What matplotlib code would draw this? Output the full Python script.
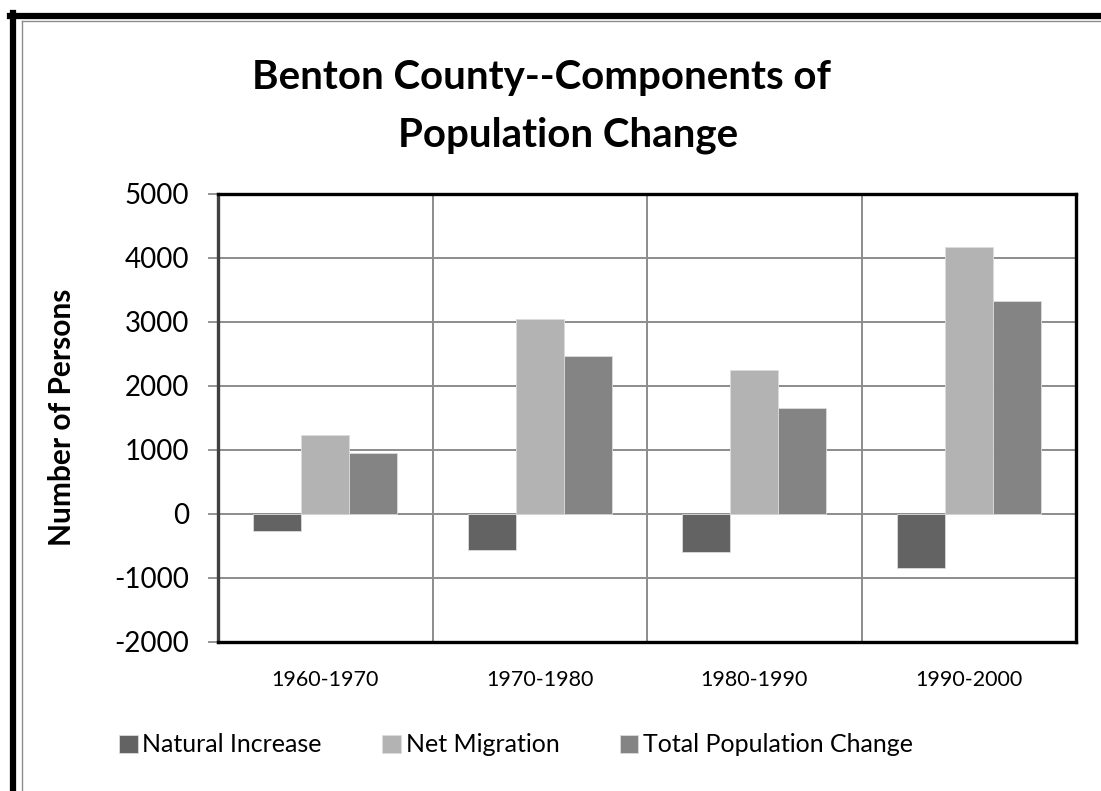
import matplotlib
matplotlib.use("Agg")
import matplotlib.pyplot as plt
import numpy as np
from matplotlib.lines import Line2D

periods = ["1960-1970", "1970-1980", "1980-1990", "1990-2000"]
natural_increase = [-265, -555, -588, -848]
net_migration = [1230, 3040, 2250, 4165]
total_change = [948, 2475, 1655, 3322]
series_names = ["Natural Increase", "Net Migration", "Total Population Change"]
series_colors = ["#636363", "#b3b3b3", "#848484"]
y_ticks = [-2000, -1000, 0, 1000, 2000, 3000, 4000, 5000]

plt.rcParams['font.family'] = ['Lato', 'DejaVu Sans']

fig = plt.figure(figsize=(11.01, 7.91), dpi=100)
W, H = 1101, 791
ax = fig.add_axes([218 / W, 1 - 642 / H, (1076 - 218) / W, (642 - 194) / H])

x = np.arange(len(periods))
bw = 0.224
bars = []
for i, (vals, col) in enumerate(zip([natural_increase, net_migration, total_change], series_colors)):
    b = ax.bar(x + (i - 1) * bw, vals, width=bw, color=col, edgecolor='#dcdcdc',
               linewidth=0.6, label=series_names[i], zorder=3)
    bars.append(b)

ax.set_xlim(-0.5, len(periods) - 0.5)
ax.set_ylim(-2000, 5000)
ax.set_yticks(y_ticks)
ax.set_yticklabels([str(v) for v in y_ticks], fontsize=20)
ax.set_xticks(x)
ax.set_xticklabels(periods, fontsize=15.5)
ax.tick_params(axis='x', length=0, pad=20)
ax.tick_params(axis='y', length=7, width=1.3, color='#8c8c8c', pad=14, direction='out')

ax.set_axisbelow(True)
ax.yaxis.grid(True, color='#8c8c8c', linewidth=1.4, zorder=0)
for xb in np.arange(0.5, len(periods) - 0.5, 1.0):
    ax.axvline(xb, color='#8c8c8c', linewidth=1.4, zorder=0)

for side in ['top', 'right', 'bottom', 'left']:
    ax.spines[side].set_color('black')
    ax.spines[side].set_linewidth(2.4)
ax.spines['left'].set_color('#404040')

ax.set_ylabel("Number of Persons", fontsize=21.5, fontweight='bold')
ax.yaxis.set_label_coords((76 - 218) / (1076 - 218), (642 - 417) / (642 - 194))

fig.text(541 / W, 1 - 78 / H, "Benton County--Components of", ha='center', va='center',
         fontsize=29, fontweight='bold')
fig.text(568 / W, 1 - 135 / H, "Population Change", ha='center', va='center',
         fontsize=29, fontweight='bold')

leg = fig.legend(handles=bars, labels=series_names, loc='center',
                 bbox_to_anchor=(516 / W, 1 - 745 / H), ncol=3, frameon=False,
                 fontsize=18, handlelength=0.75, handleheight=0.75,
                 handletextpad=0.2, columnspacing=2.4)

# outer frame (thick black left/top, thin grey inner)
fig.add_artist(Line2D([13 / W, 13 / W], [0, 1 - 13 / H], color='black', linewidth=4.5,
                      transform=fig.transFigure))
fig.add_artist(Line2D([10 / W, 1], [1 - 16 / H, 1 - 16 / H], color='black', linewidth=4.5,
                      transform=fig.transFigure))
fig.add_artist(Line2D([22 / W, 22 / W], [0, 1 - 21 / H], color='#8c8c8c', linewidth=1,
                      transform=fig.transFigure))
fig.add_artist(Line2D([22 / W, 1], [1 - 21 / H, 1 - 21 / H], color='#8c8c8c', linewidth=1,
                      transform=fig.transFigure))

fig.savefig("out.png", dpi=100)
